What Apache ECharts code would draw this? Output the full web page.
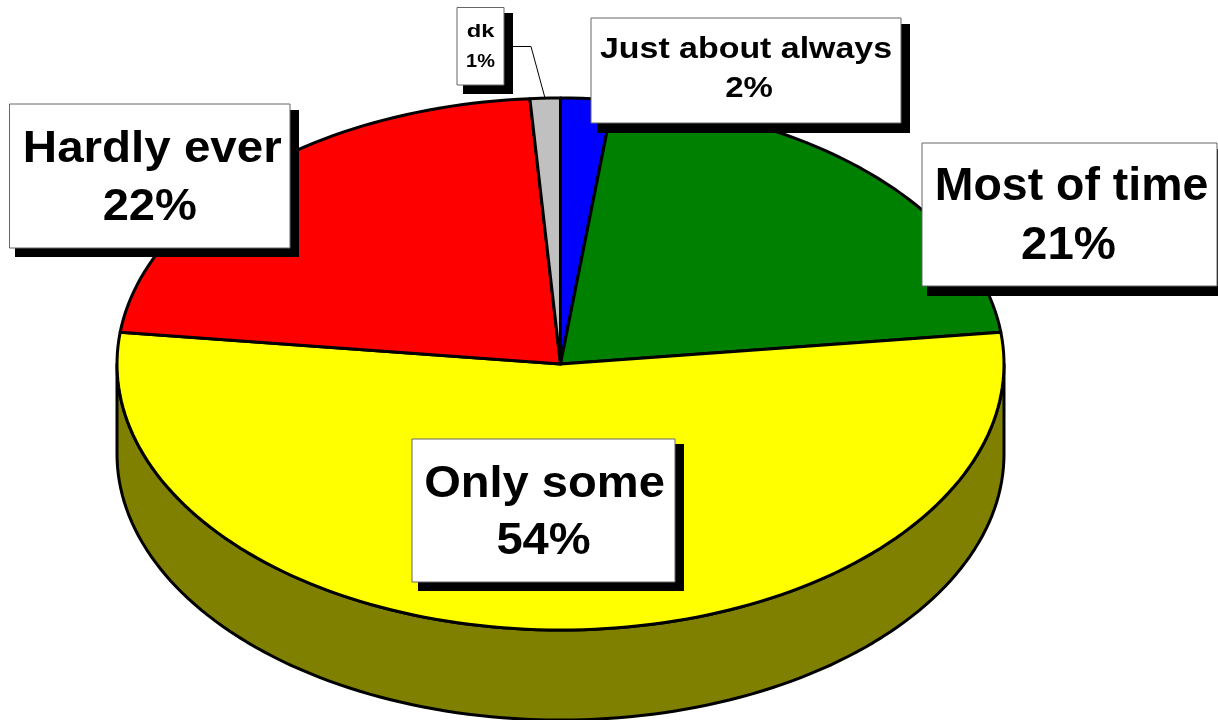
<!DOCTYPE html>
<html>
<head>
<meta charset="utf-8">
<style>html,body{margin:0;padding:0;background:#fff}#c{width:1218px;height:720px}</style>
<script src="https://cdn.jsdelivr.net/npm/echarts@6/dist/echarts.min.js"></script>
</head>
<body>
<div id="c"></div>
<script>
// Data
const categories = ['Just about always', 'Most of time', 'Only some', 'Hardly ever', 'dk'];
const shares = [1.9, 21.2, 53.8, 22.0, 1.1];
const shareLabels = ['2%', '21%', '54%', '22%', '1%'];

// Styles
const topColors = ['#0000ff', '#008000', '#ffff00', '#ff0000', '#c0c0c0'];
const wallColors = ['#000080', '#004000', '#808000', '#800000', '#606060'];

// Layout: ellipse geometry and callout boxes
const pie = {cx: 560.5, cy: 364, rx: 443.5, ry: 266, depth: 90};
const boxes = [
  {x: 591, y: 18, w: 310, h: 105, sx: 597, sy: 24, ex: 910, ey: 133, font: 30, ly1: 49.5, ly2: 89, k1: 1.13, k2: 1.1, dx1: 0, dx2: 3},
  {x: 922, y: 143, w: 295, h: 143, sx: 927, sy: 149, ex: 1218, ey: 296, font: 46, ly1: 187.5, ly2: 246, k1: 1.01, k2: 1.03, dx1: 2, dx2: -1},
  {x: 412, y: 439, w: 263, h: 143, sx: 418, sy: 444, ex: 684, ey: 591, font: 44, ly1: 484.5, ly2: 541.5, k1: 1.07, k2: 1.07, dx1: 1, dx2: 0},
  {x: 9.5, y: 104, w: 280.5, h: 144, sx: 15, sy: 110, ex: 299, ey: 257, font: 44, ly1: 149.5, ly2: 207.5, k1: 1.08, k2: 1.07, dx1: 2.5, dx2: 0},
  {x: 457, y: 7.5, w: 47, h: 77.5, sx: 463, sy: 13, ex: 513, ey: 94, font: 19, ly1: 32, ly2: 62, k1: 1.25, k2: 1.05, dx1: 0, dx2: 0}
];
const leader = [[513, 46.5], [531, 46.5], [545, 98]];

const total = shares.reduce((a, b) => a + b, 0);
const pt = (deg, dy) => {
  const r = deg * Math.PI / 180;
  return [pie.cx + pie.rx * Math.sin(r), pie.cy - pie.ry * Math.cos(r) + (dy || 0)];
};
const arc = (a, b, dy) => {
  const n = Math.max(2, Math.ceil(Math.abs(b - a) / 1.5));
  const out = [];
  for (let i = 0; i <= n; i++) out.push(pt(a + (b - a) * i / n, dy));
  return out;
};

function renderSlice(params, api) {
  const i = params.dataIndex;
  let before = 0;
  for (let k = 0; k < i; k++) before += shares[k];
  const a0 = before / total * 360;
  const a1 = a0 + api.value(0) / total * 360;
  const children = [];
  const w0 = Math.max(a0, 90), w1 = Math.min(a1, 270);
  if (w1 > w0) {
    children.push({
      type: 'polygon',
      shape: {points: arc(w0, w1, 0).concat(arc(w1, w0, pie.depth))},
      style: {fill: wallColors[i], stroke: '#000', lineWidth: 3, lineJoin: 'round'}
    });
  }
  children.push({
    type: 'polygon',
    shape: {points: [[pie.cx, pie.cy]].concat(arc(a0, a1, 0))},
    style: {fill: topColors[i], stroke: '#000', lineWidth: 3, lineJoin: 'round'}
  });
  return {type: 'group', children};
}

const graphics = [];
graphics.push({
  type: 'polyline', z: 10,
  shape: {points: leader},
  style: {fill: null, stroke: '#000', lineWidth: 1}
});
boxes.forEach((b, i) => {
  graphics.push({type: 'rect', z: 11, shape: {x: b.sx, y: b.sy, width: b.ex - b.sx, height: b.ey - b.sy}, style: {fill: '#000'}});
  graphics.push({type: 'rect', z: 12, shape: {x: b.x, y: b.y, width: b.w, height: b.h}, style: {fill: '#fff', stroke: '#666', lineWidth: 1}});
  [[categories[i], b.ly1, b.k1, b.dx1], [shareLabels[i], b.ly2, b.k2, b.dx2]].forEach(([t, y, k, dx]) => {
    graphics.push({
      type: 'text', z: 13, x: b.x + b.w / 2 + dx, y: y, scaleX: k,
      style: {
        text: t, x: 0, y: 0, fill: '#000', align: 'center', verticalAlign: 'middle',
        font: 'bold ' + b.font + 'px "Liberation Sans", Arial, sans-serif'
      }
    });
  });
});

const chart = echarts.init(document.getElementById('c'), null, {renderer: 'canvas', width: 1218, height: 720});
chart.setOption({
  backgroundColor: '#fff',
  animation: false,
  tooltip: {show: false},
  series: [{
    type: 'custom',
    name: 'Share',
    coordinateSystem: 'none',
    renderItem: renderSlice,
    data: shares.map((v, i) => ({name: categories[i], value: [v]})),
    silent: true,
    animation: false
  }],
  graphic: {elements: graphics}
});
</script>
</body>
</html>
